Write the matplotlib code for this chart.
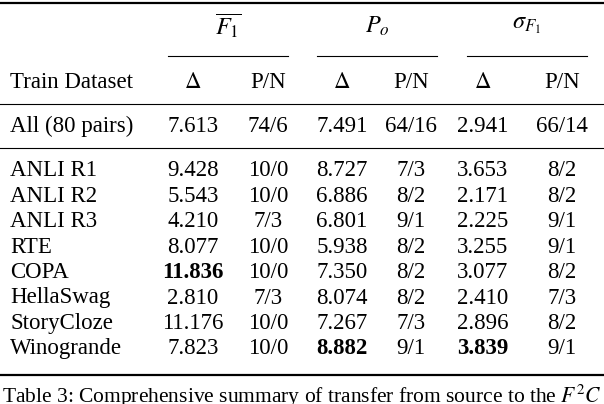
import matplotlib as mpl
mpl.use('Agg')
from matplotlib import pyplot as plt

plt.rcParams['font.family'] = 'Liberation Serif'
plt.rcParams['mathtext.fontset'] = 'stix'

datasets = ['ANLI R1', 'ANLI R2', 'ANLI R3', 'RTE', 'COPA', 'HellaSwag', 'StoryCloze', 'Winogrande']
f1_delta = ['9.428', '5.543', '4.210', '8.077', '11.836', '2.810', '11.176', '7.823']
f1_pn = ['10/0', '10/0', '7/3', '10/0', '10/0', '7/3', '10/0', '10/0']
po_delta = ['8.727', '6.886', '6.801', '5.938', '7.350', '8.074', '7.267', '8.882']
po_pn = ['7/3', '8/2', '9/1', '8/2', '8/2', '8/2', '7/3', '9/1']
sd_delta = ['3.653', '2.171', '2.225', '3.255', '3.077', '2.410', '2.896', '3.839']
sd_pn = ['8/2', '8/2', '9/1', '9/1', '8/2', '7/3', '8/2', '9/1']
all_row = ['All (80 pairs)', '7.613', '74/6', '7.491', '64/16', '2.941', '66/14']
bold_cells = {(4, 1), (7, 3), (7, 5)}

W, H = 604, 404
fig = plt.figure(figsize=(W / 100, H / 100), dpi=100)
fs = 16.5
col_x = [10, 193, 268, 342, 411, 483, 562]

def txt(x, y, s, ha='center', weight='normal', size=fs):
    fig.text(x / W, 1 - y / H, s, ha=ha, va='center', fontsize=size, weight=weight)

def hline(y, x0=0, x1=W, lw=1.6):
    fig.add_artist(plt.Line2D([x0 / W, x1 / W], [1 - y / H, 1 - y / H], color='k', lw=lw))

hline(3)
for s, (a, b) in zip([r'$\overline{F_1}$', r'$P_o$', r'$\sigma_{F_1}$'], [(168, 288), (317, 437), (467, 587)]):
    txt((a + b) / 2, 26, s, size=fs + 1)
    hline(56, a, b, lw=0.8)
txt(col_x[0], 83, 'Train Dataset', ha='left')
for i, s in enumerate([r'$\Delta$', 'P/N'] * 3):
    txt(col_x[i + 1], 83, s)
hline(104, lw=0.8)

for i, s in enumerate(all_row):
    txt(col_x[i], 126, s, ha='left' if i == 0 else 'center')
hline(148, lw=0.8)

for r in range(len(datasets)):
    y = 171 + r * 25.4
    row = [datasets[r], f1_delta[r], f1_pn[r], po_delta[r], po_pn[r], sd_delta[r], sd_pn[r]]
    for c, s in enumerate(row):
        txt(col_x[c], y, s, ha='left' if c == 0 else 'center',
            weight='bold' if (r, c) in bold_cells else 'normal')
hline(375)

fig.text(2 / W, 1 - 396 / H, 'Table 3: Comprehensive summary of transfer from source to the $F^2C$',
         ha='left', va='center', fontsize=fs - 1)

fig.savefig('out.png', dpi=100)
